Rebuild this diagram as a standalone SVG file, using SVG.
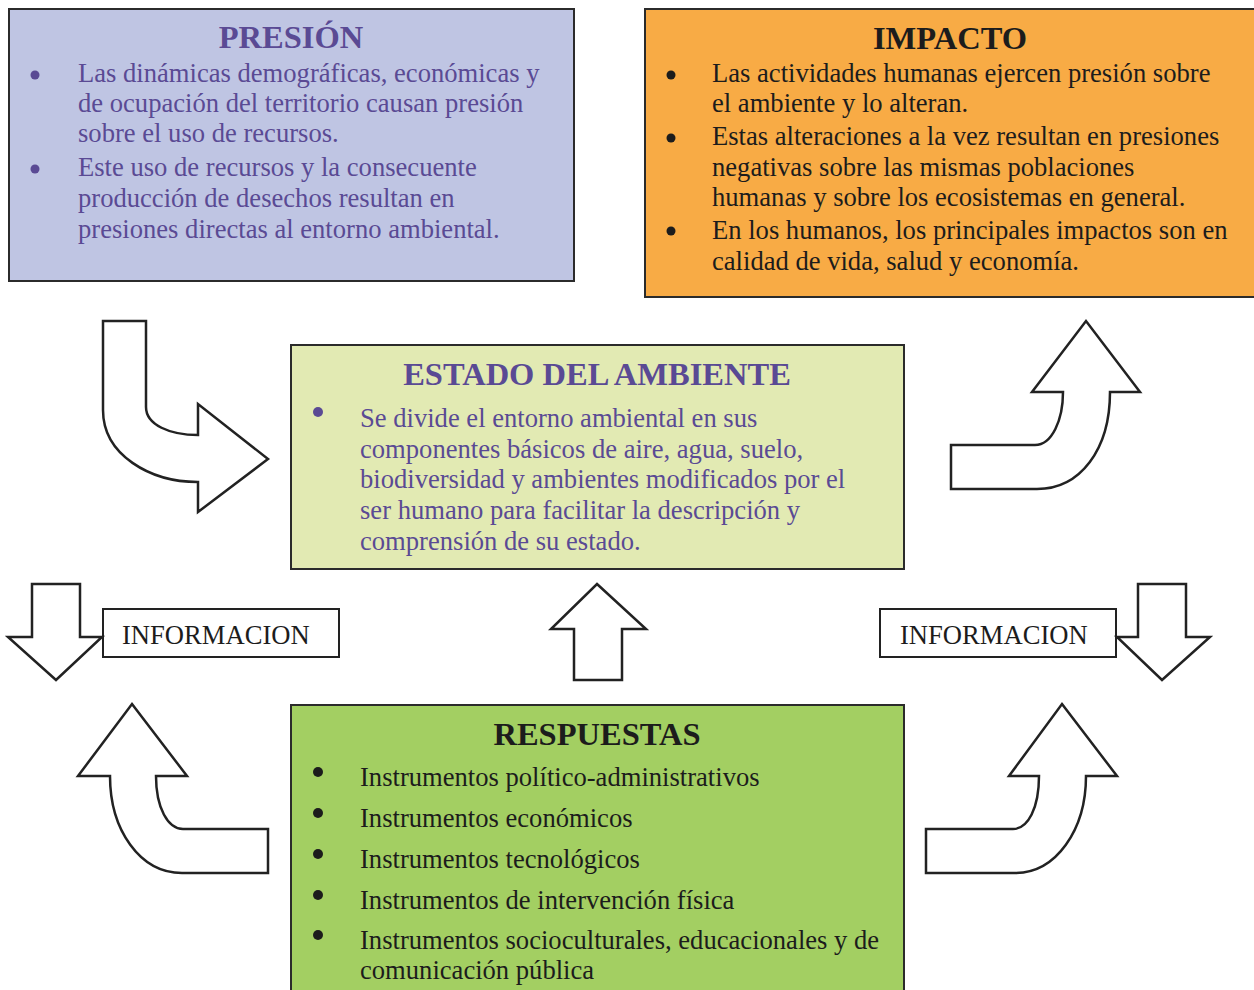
<svg xmlns="http://www.w3.org/2000/svg" width="1254" height="990" viewBox="0 0 1254 990">
<style>
.box{stroke:#2b2b2b;stroke-width:2}
.t{font-family:"Liberation Serif","Times New Roman",serif;font-size:26.6px}
.h{font-family:"Liberation Serif","Times New Roman",serif;font-size:32.5px;font-weight:bold;text-anchor:middle}
.p{fill:#5a4a94}
.k{fill:#1c1c1c}
.arr{fill:#fff;stroke:#222;stroke-width:2.5;stroke-linejoin:miter}
.info{fill:#fff;stroke:#222;stroke-width:2}
</style>
<rect width="1254" height="990" fill="#fff"/>
<g id="presion">
<rect class="box" x="9" y="9" width="565" height="272" fill="#bfc5e3"/>
<text class="h p" x="291" y="48">PRESIÓN</text>
<circle class="p" cx="35" cy="75" r="4.5"/>
<circle class="p" cx="35" cy="169" r="4.5"/>
<g class="t p">
<text x="78" y="82">Las dinámicas demográficas, económicas y</text>
<text x="78" y="112">de ocupación del territorio causan presión</text>
<text x="78" y="142">sobre el uso de recursos.</text>
<text x="78" y="176">Este uso de recursos y la consecuente</text>
<text x="78" y="207">producción de desechos resultan en</text>
<text x="78" y="238">presiones directas al entorno ambiental.</text>
</g>
</g>
<g id="impacto">
<rect class="box" x="645" y="9" width="612" height="288" fill="#f8ab45"/>
<text class="h k" x="950" y="49">IMPACTO</text>
<circle class="k" cx="671" cy="75" r="4.5"/>
<circle class="k" cx="671" cy="138" r="4.5"/>
<circle class="k" cx="671" cy="231" r="4.5"/>
<g class="t k">
<text x="712" y="82">Las actividades humanas ejercen presión sobre</text>
<text x="712" y="112">el ambiente y lo alteran.</text>
<text x="712" y="145">Estas alteraciones a la vez resultan en presiones</text>
<text x="712" y="176">negativas sobre las mismas poblaciones</text>
<text x="712" y="206">humanas y sobre los ecosistemas en general.</text>
<text x="712" y="239">En los humanos, los principales impactos son en</text>
<text x="712" y="270">calidad de vida, salud y economía.</text>
</g>
</g>
<g id="estado">
<rect class="box" x="291" y="345" width="613" height="224" fill="#e2eab3"/>
<text class="h p" x="597" y="385">ESTADO DEL AMBIENTE</text>
<circle class="p" cx="318" cy="412" r="5"/>
<g class="t p">
<text x="360" y="427">Se divide el entorno ambiental en sus</text>
<text x="360" y="458">componentes básicos de aire, agua, suelo,</text>
<text x="360" y="488">biodiversidad y ambientes modificados por el</text>
<text x="360" y="519">ser humano para facilitar la descripción y</text>
<text x="360" y="550">comprensión de su estado.</text>
</g>
</g>
<g id="respuestas">
<rect class="box" x="291" y="705" width="613" height="290" fill="#a3cf62"/>
<text class="h k" x="597" y="745">RESPUESTAS</text>
<circle class="k" cx="318" cy="772" r="5"/>
<circle class="k" cx="318" cy="813" r="5"/>
<circle class="k" cx="318" cy="854" r="5"/>
<circle class="k" cx="318" cy="895" r="5"/>
<circle class="k" cx="318" cy="935" r="5"/>
<g class="t k">
<text x="360" y="786">Instrumentos político-administrativos</text>
<text x="360" y="827">Instrumentos económicos</text>
<text x="360" y="868">Instrumentos tecnológicos</text>
<text x="360" y="909">Instrumentos de intervención física</text>
<text x="360" y="949">Instrumentos socioculturales, educacionales y de</text>
<text x="360" y="979">comunicación pública</text>
</g>
</g>
<g id="info-left">
<rect class="info" x="103" y="609" width="236" height="48"/>
<text class="t k" x="122" y="644">INFORMACION</text>
</g>
<g id="info-right">
<rect class="info" x="880" y="609" width="236" height="48"/>
<text class="t k" x="900" y="644">INFORMACION</text>
</g>
<g id="connectors">
<path class="arr" d="M103,321 L146,321 L146,407 C146,425 170,435 198,435 L198,404 L268,459 L198,512 L198,482 C150,482 103,455 103,410 Z"/>
<path class="arr" d="M951,445 L1035,445 C1052,445 1063,420 1063,392 L1032,392 L1086,321 L1140,392 L1110,392 C1110,450 1080,489 1037,489 L951,489 Z"/>
<path class="arr" d="M32,584 L80,584 L80,637 L102,637 L56,680 L8,637 L32,637 Z"/>
<path class="arr" d="M1138,584 L1186,584 L1186,637 L1210,637 L1162,680 L1117,637 L1138,637 Z"/>
<path class="arr" d="M132,704 L187,776 L156,776 C156,808 168,829 183,829 L268,829 L268,873 L182,873 C140,873 110,830 110,776 L78,776 Z"/>
<path class="arr" d="M1062,704 L1117,776 L1086,776 C1086,830 1056,873 1015,873 L926,873 L926,829 L1013,829 C1028,829 1039,808 1039,776 L1009,776 Z"/>
<path class="arr" d="M597,584 L646,629 L622,629 L622,680 L574,680 L574,629 L551,629 Z"/>
</g>
</svg>
